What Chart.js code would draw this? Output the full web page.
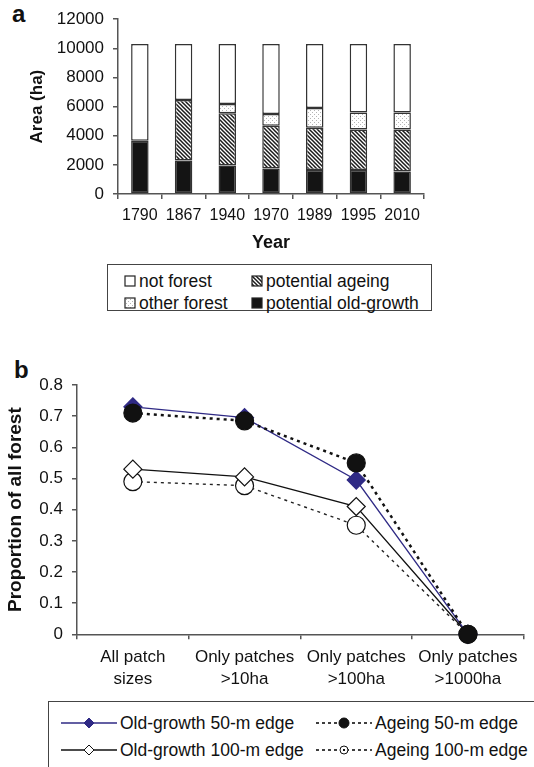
<!DOCTYPE html>
<html>
<head>
<meta charset="utf-8">
<script src="https://cdn.jsdelivr.net/npm/chart.js@4"></script>
<style>
  body { margin: 0; background: #fff; }
  #wrap { position: relative; width: 534px; height: 767px; overflow: hidden;
          font-family: 'Liberation Sans', Arial, sans-serif; color: #111; }
  .tag { position: absolute; font-weight: bold; font-size: 24px; line-height: 24px; }
  canvas.chart { position: absolute; left: 0; }
  .legend { position: absolute; border: 1px solid #444; box-sizing: border-box; }
  .item { position: absolute; font-size: 17.5px; line-height: 20px; white-space: nowrap; }
  .item canvas { position: absolute; }
</style>
</head>
<body>
<div id="wrap">
  <div class="tag" style="left:12px;top:2px">a</div>
  <canvas id="chartA" class="chart" width="534" height="260" style="top:0"></canvas>
  <div id="legendA" class="legend" style="left:107px;top:264px;width:325px;height:47px"></div>

  <div class="tag" style="left:14px;top:358px">b</div>
  <canvas id="chartB" class="chart" width="534" height="355" style="top:340px"></canvas>
  <div id="legendB" class="legend" style="left:48px;top:701px;width:500px;height:80px"></div>
</div>
<script>
// chart a
const years = ['1790', '1867', '1940', '1970', '1989', '1995', '2010'];
const oldGrowthArea = [3650, 2300, 1950, 1750, 1650, 1650, 1550];
const ageingArea = [0, 4150, 3600, 2930, 2900, 2780, 2880];
const otherForestArea = [0, 0, 620, 820, 1350, 1170, 1170];
const notForestArea = [6650, 3850, 4130, 4800, 4400, 4700, 4700];
const areaTicks = [0, 2000, 4000, 6000, 8000, 10000, 12000];

// chart b
const patchLabels = [['All patch', 'sizes'], ['Only patches', '>10ha'], ['Only patches', '>100ha'], ['Only patches', '>1000ha']];
const og50 = [0.73, 0.695, 0.495, 0];
const ageing50 = [0.71, 0.685, 0.55, 0];
const og100 = [0.53, 0.505, 0.41, 0];
const ageing100 = [0.49, 0.477, 0.35, 0];
const propTicks = [0, 0.1, 0.2, 0.3, 0.4, 0.5, 0.6, 0.7, 0.8];

const axisColor = '#555';
const textColor = '#111';
const navy = '#2f2a85';

function hatchTile() {
    const c = document.createElement('canvas');
    c.width = 4; c.height = 4;
    const g = c.getContext('2d');
    g.fillStyle = '#fff';
    g.fillRect(0, 0, 4, 4);
    g.strokeStyle = '#1a1a1a';
    g.lineWidth = 1.5;
    g.beginPath();
    g.moveTo(-1, -1); g.lineTo(5, 5);
    g.moveTo(-1, 3); g.lineTo(1, 5);
    g.moveTo(3, -1); g.lineTo(5, 1);
    g.stroke();
    return c;
}

function dotTile() {
    const c = document.createElement('canvas');
    c.width = 4; c.height = 4;
    const g = c.getContext('2d');
    g.fillStyle = '#fff';
    g.fillRect(0, 0, 4, 4);
    g.fillStyle = '#b5b5b5';
    g.fillRect(0, 0, 1, 1);
    g.fillRect(2, 2, 1, 1);
    return c;
}

const ctxA = document.getElementById('chartA').getContext('2d');
const hatch = ctxA.createPattern(hatchTile(), 'repeat');
const dots = ctxA.createPattern(dotTile(), 'repeat');

function barSet(label, data, fill) {
    return {
        label: label,
        data: data,
        backgroundColor: fill,
        borderColor: '#333',
        borderWidth: 1.5,
        borderSkipped: false,
        barPercentage: 0.4,
        categoryPercentage: 1
    };
}

new Chart(ctxA, {
    type: 'bar',
    data: {
        labels: years,
        datasets: [
            barSet('potential old-growth', oldGrowthArea, '#141414'),
            barSet('potential ageing', ageingArea, hatch),
            barSet('other forest', otherForestArea, dots),
            barSet('not forest', notForestArea, '#fff')
        ]
    },
    options: {
        responsive: false,
        animation: false,
        layout: { padding: { top: 19, right: 110, left: 0, bottom: 0 } },
        plugins: { legend: { display: false }, tooltip: { enabled: false } },
        scales: {
            x: {
                stacked: true,
                grid: { offset: true, drawOnChartArea: false, tickLength: 5, tickColor: axisColor, lineWidth: 1.5 },
                border: { color: axisColor, width: 1.5 },
                ticks: { font: { size: 16 }, color: textColor, padding: 7 },
                title: { display: true, text: 'Year', color: textColor, font: { size: 18, weight: 'bold' }, padding: { top: 0, bottom: 6 } },
                afterFit: s => { s.height = 66; }
            },
            y: {
                stacked: true,
                min: 0,
                max: 12000,
                afterBuildTicks: s => { s.ticks = areaTicks.map(v => ({ value: v })); },
                ticks: { callback: v => String(v), font: { size: 17 }, color: textColor, padding: 9 },
                grid: { drawOnChartArea: false, tickLength: 5, tickColor: axisColor, lineWidth: 1.5 },
                border: { color: axisColor, width: 1.5 },
                title: { display: true, text: 'Area (ha)', color: textColor, font: { size: 17, weight: 'bold' }, padding: { top: 27, bottom: 0 } },
                afterFit: s => { s.width = 118; }
            }
        }
    }
});

function lineSet(label, data, opts) {
    return Object.assign({
        label: label,
        data: data,
        tension: 0,
        fill: false,
        clip: false,
        pointRadius: 9,
        pointBorderWidth: 1.2
    }, opts);
}

const sets = {
    og50: { borderColor: navy, borderWidth: 1.3, pointStyle: 'rectRot', pointRadius: 9, pointBackgroundColor: navy, pointBorderColor: navy },
    ageing50: { borderColor: '#111', borderWidth: 2.5, borderDash: [3, 4], pointStyle: 'circle', pointRadius: 9, pointBackgroundColor: '#111', pointBorderColor: '#111' },
    og100: { borderColor: '#111', borderWidth: 1.3, pointStyle: 'rectRot', pointRadius: 9, pointBackgroundColor: '#fff', pointBorderColor: '#111' },
    ageing100: { borderColor: '#222', borderWidth: 1.4, borderDash: [3, 4], pointStyle: 'circle', pointRadius: 9, pointBackgroundColor: '#fff', pointBorderColor: '#111' }
};

new Chart(document.getElementById('chartB'), {
    type: 'line',
    data: {
        labels: patchLabels,
        datasets: [
            lineSet('Ageing 50-m edge', ageing50, sets.ageing50),
            lineSet('Old-growth 50-m edge', og50, sets.og50),
            lineSet('Old-growth 100-m edge', og100, sets.og100),
            lineSet('Ageing 100-m edge', ageing100, sets.ageing100)
        ]
    },
    options: {
        responsive: false,
        animation: false,
        layout: { padding: { top: 45, right: 2, left: 0, bottom: 0 } },
        plugins: { legend: { display: false }, tooltip: { enabled: false } },
        scales: {
            x: {
                offset: true,
                grid: { offset: true, drawOnChartArea: false, tickLength: 5, tickColor: axisColor, lineWidth: 1.5 },
                border: { color: axisColor, width: 1.5 },
                ticks: { font: { size: 17, lineHeight: 1.3 }, color: textColor, padding: 7, maxRotation: 0, autoSkip: false },
                afterFit: s => { s.height = 60.7; }
            },
            y: {
                min: 0,
                max: 0.8,
                afterBuildTicks: s => { s.ticks = propTicks.map(v => ({ value: v })); },
                ticks: { callback: v => String(v), font: { size: 17 }, color: textColor, padding: 9 },
                grid: { drawOnChartArea: false, tickLength: 5, tickColor: axisColor, lineWidth: 1.5 },
                border: { color: axisColor, width: 1.5 },
                title: { display: true, text: 'Proportion of all forest', color: textColor, font: { size: 19, weight: 'bold' }, padding: { top: 4, bottom: 0 } },
                afterFit: s => { s.width = 77; }
            }
        }
    }
});

// legends
function addItem(box, x, cy, text, w, h, drawFn) {
    const el = document.createElement('div');
    el.className = 'item';
    el.style.left = x + 'px';
    el.style.top = (cy - 10) + 'px';
    const c = document.createElement('canvas');
    c.width = w; c.height = h;
    c.style.left = '0px';
    c.style.top = (10 - h / 2) + 'px';
    drawFn(c.getContext('2d'), w, h);
    el.appendChild(c);
    const span = document.createElement('span');
    span.textContent = text;
    span.style.marginLeft = (w + 3) + 'px';
    el.appendChild(span);
    box.appendChild(el);
}

function swatch(fill, tile) {
    return (g, w, h) => {
        g.fillStyle = tile ? g.createPattern(tile, 'repeat') : fill;
        g.fillRect(1, 1, w - 2, h - 2);
        g.strokeStyle = '#222';
        g.lineWidth = 1.2;
        g.strokeRect(1, 1, w - 2, h - 2);
    };
}

const legA = document.getElementById('legendA');
addItem(legA, 16, 16, 'not forest', 12, 12, swatch('#fff'));
addItem(legA, 16, 38, 'other forest', 12, 12, swatch(null, dotTile()));
addItem(legA, 143, 16, 'potential ageing', 12, 12, swatch(null, hatchTile()));
addItem(legA, 143, 38, 'potential old-growth', 12, 12, swatch('#141414'));

function sample(s, r) {
    return (g, w, h) => {
        const y = h / 2;
        g.strokeStyle = '#111';
        g.lineWidth = s.borderDash ? 1.6 : 1.3;
        if (!s.borderDash) g.strokeStyle = s.borderColor;
        g.setLineDash(s.borderDash ? [3, 3] : []);
        g.beginPath();
        g.moveTo(0, y); g.lineTo(w, y);
        g.stroke();
        g.setLineDash([]);
        const cx = w / 2;
        g.fillStyle = s.pointBackgroundColor;
        g.strokeStyle = s.pointBorderColor;
        g.lineWidth = 1;
        g.beginPath();
        if (s.pointStyle === 'circle') {
            g.arc(cx, y, r, 0, Math.PI * 2);
        } else {
            g.moveTo(cx, y - r); g.lineTo(cx + r, y); g.lineTo(cx, y + r); g.lineTo(cx - r, y); g.closePath();
        }
        g.fill();
        g.stroke();
        if (s.pointStyle === 'circle' && s.pointBackgroundColor === '#fff') {
            g.fillStyle = '#111';
            g.fillRect(cx - 1, y - 1, 2, 2);
        }
    };
}

const legB = document.getElementById('legendB');
addItem(legB, 12, 20.7, 'Old-growth 50-m edge', 56, 14, sample(sets.og50, 5));
addItem(legB, 12, 48, 'Old-growth 100-m edge', 56, 14, sample(sets.og100, 5));
addItem(legB, 267, 20.7, 'Ageing 50-m edge', 56, 14, sample(sets.ageing50, 5));
addItem(legB, 267, 48, 'Ageing 100-m edge', 56, 14, sample(sets.ageing100, 4));
</script>
</body>
</html>
